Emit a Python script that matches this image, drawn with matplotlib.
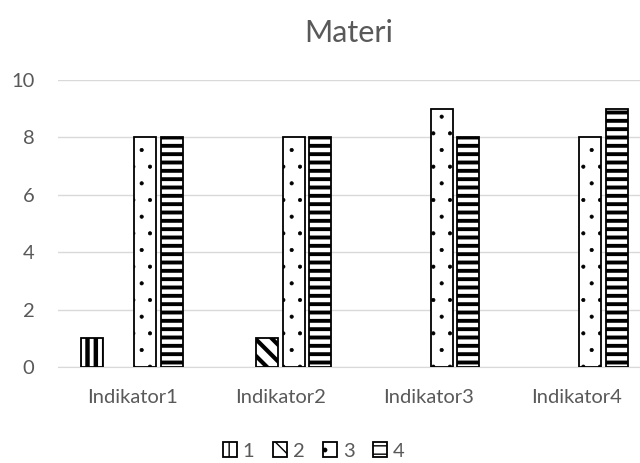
import numpy as np
import matplotlib.pyplot as plt

plt.rcParams['font.family'] = ['Lato', 'DejaVu Sans']

categories = ['Indikator1', 'Indikator2', 'Indikator3', 'Indikator4']
series_names = ['1', '2', '3', '4']
s1 = [1, 0, 0, 0]
s2 = [0, 1, 0, 0]
s3 = [8, 8, 9, 8]
s4 = [8, 8, 8, 9]
values = [s1, s2, s3, s4]

hatches = ['||', '\\\\', '.', '--']
hatch_lw = [3.2, 3.0, 0.5, 2.8]

text_col = '#595959'
grid_col = '#d9d9d9'

fig = plt.figure(figsize=(6.4, 4.63), dpi=100)
ax = fig.add_axes([58 / 640, 1 - 367 / 463, (651 - 58) / 640, (367 - 80) / 463])

x = np.arange(len(categories))
pitch = 0.179
width = 0.149

for i, (name, vals) in enumerate(zip(series_names, values)):
    vals = np.array(vals, dtype=float)
    keep = vals > 0  # empty cells in the sheet draw nothing
    with plt.rc_context({'hatch.linewidth': hatch_lw[i], 'hatch.color': 'black'}):
        bars = ax.bar((x + (i - 1.5) * pitch)[keep], vals[keep], width, color='white',
                      edgecolor='black', linewidth=1.3, hatch=hatches[i], label=name,
                      zorder=3)
        for b in bars:
            if hasattr(b, 'set_hatch_linewidth'):
                b.set_hatch_linewidth(hatch_lw[i])

ax.set_xlim(-0.5, 3.5)
ax.set_ylim(0, 10)
ax.set_yticks([0, 2, 4, 6, 8, 10])
ax.set_xticks(x)
ax.set_xticklabels(categories)
ax.tick_params(length=0, labelsize=14.5, labelcolor=text_col)
ax.tick_params(axis='x', pad=16)
ax.tick_params(axis='y', pad=17)
ax.grid(axis='y', color=grid_col, linewidth=1, zorder=0)
for s in ['top', 'right', 'left']:
    ax.spines[s].set_visible(False)
ax.spines['bottom'].set_color(grid_col)
ax.spines['bottom'].set_zorder(2)

fig.text(349 / 640, 1 - 33 / 463, 'Materi', ha='center', va='center',
         fontsize=22, color=text_col)

handles, labels = ax.get_legend_handles_labels()
leg = fig.legend(handles, labels, loc='center', bbox_to_anchor=(0.49, 0.026),
                 ncol=4, frameon=False, fontsize=14.5, handlelength=0.7,
                 handleheight=0.7, handletextpad=0.3, columnspacing=0.9)
for t in leg.get_texts():
    t.set_color(text_col)

fig.savefig('out.png', dpi=100)
